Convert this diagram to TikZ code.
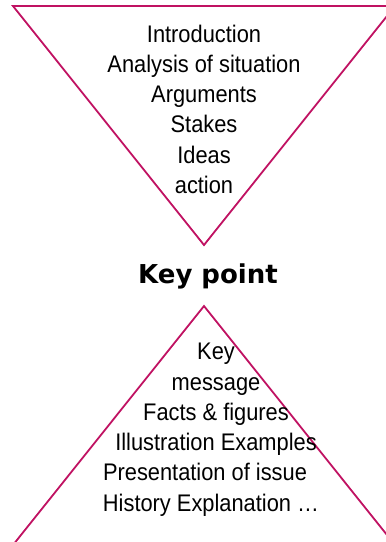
\documentclass[tikz,border=0pt]{standalone}
\usepackage{fontspec}
\setmainfont[FakeStretch=0.91]{Liberation Sans}
\newfontfamily\headfont{DejaVu Sans}
\usepackage{tikz}
\usetikzlibrary{positioning}

\definecolor{funnel}{RGB}{192,18,98}

\tikzset{
    edge/.style={draw=funnel, line width=1.8pt, line join=miter},
    steps/.style={align=center, inner sep=0pt, anchor=north,
        font=\fontsize{24}{30.3}\selectfont},
    title/.style={inner sep=0pt, anchor=base,
        font=\headfont\bfseries\fontsize{26}{30}\selectfont}
}

\begin{document}
\begin{tikzpicture}[x=1pt,y=-1pt]
    \useasboundingbox (0,0) rectangle (386,542);
    \clip (0,0) rectangle (386,542);

    % corners of the two triangles
    \coordinate (tl) at (13,6);
    \coordinate (tr) at (395,6);
    \coordinate (tip) at (204,245);
    \coordinate (bl) at (13,545);
    \coordinate (br) at (395,545);
    \coordinate (top) at (204,306);

    \draw[edge] (tl) -- (tr) -- (tip) -- cycle;
    \draw[edge] (top) -- (br) -- (bl) -- cycle;

    \node[steps] (down) at (204,24.5) {Introduction\\Analysis of situation\\Arguments\\Stakes\\Ideas\\action};
    \node[title] (key) at (208,283) {Key point};
    \node[steps] (up) at (216,343) {Key\\message\\Facts \& figures\\Illustration Examples\\Presentation of issue\rule{22pt}{0pt}\\History Explanation \dots\rule{10pt}{0pt}};
\end{tikzpicture}
\end{document}
